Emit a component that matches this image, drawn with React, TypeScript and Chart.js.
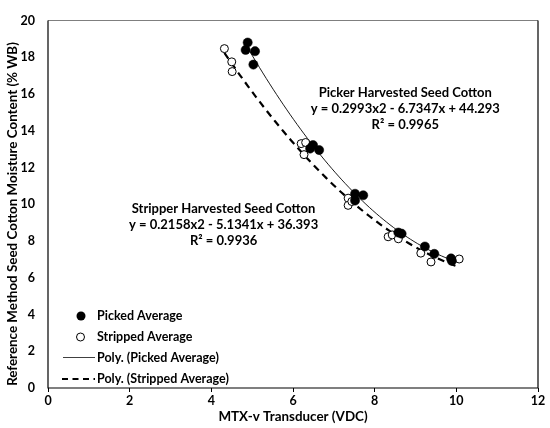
import React, { useEffect, useRef } from "react";
import { Chart, registerables } from "chart.js";

Chart.register(...registerables);

// Data
const pickedX = [4.89, 4.84, 5.07, 5.03, 6.49, 6.42, 6.64, 7.52, 7.72, 7.52, 8.58, 8.66, 9.23, 9.46, 9.87, 9.89];
const pickedY = [18.8, 18.4, 18.33, 17.6, 13.22, 13.03, 12.95, 10.57, 10.49, 10.2, 8.46, 8.4, 7.7, 7.3, 7.05, 6.92];
const strippedX = [4.32, 4.5, 4.51, 6.2, 6.31, 6.27, 7.35, 7.35, 7.44, 8.33, 8.43, 8.58, 9.13, 9.38, 10.07];
const strippedY = [18.47, 17.75, 17.22, 13.3, 13.36, 12.7, 10.33, 9.94, 10.15, 8.23, 8.33, 8.12, 7.34, 6.86, 7.02];

// Polynomial trendline coefficients shown on the chart (a, b, c for ax^2 + bx + c)
const pickedFit = [0.2993, -6.7347, 44.293];
const strippedFit = [0.2158, -5.1341, 36.393];

const pickedLabel = ["Picker Harvested Seed Cotton", "y = 0.2993x2 - 6.7347x + 44.293", "R² = 0.9965"];
const strippedLabel = ["Stripper Harvested Seed Cotton", "y = 0.2158x2 - 5.1341x + 36.393", "R² = 0.9936"];

const xTicks = [0, 2, 4, 6, 8, 10, 12];
const yTicks = [0, 2, 4, 6, 8, 10, 12, 14, 16, 18, 20];

const legendItems = ["Picked Average", "Stripped Average", "Poly. (Picked Average)", "Poly. (Stripped Average)"];

const FONT = "Lato";

function trend(xs: number[], fit: number[]) {
  const lo = Math.min(...xs);
  const hi = Math.max(...xs);
  const n = 60;
  const pts: { x: number; y: number }[] = [];
  for (let i = 0; i <= n; i++) {
    const x = lo + ((hi - lo) * i) / n;
    pts.push({ x, y: fit[0] * x * x + fit[1] * x + fit[2] });
  }
  return pts;
}

const overlay = {
  id: "overlay",
  beforeDatasetsDraw(chart: any) {
    const { ctx } = chart;
    const { left, top, right, bottom } = chart.chartArea;
    ctx.save();
    ctx.lineWidth = 1.2;
    ctx.strokeStyle = "#7f7f7f";
    ctx.beginPath();
    ctx.moveTo(left, top);
    ctx.lineTo(right, top);
    ctx.stroke();
    ctx.strokeStyle = "#000";
    ctx.beginPath();
    ctx.moveTo(right, top);
    ctx.lineTo(right, bottom);
    ctx.lineTo(left, bottom);
    ctx.lineTo(left, top);
    ctx.stroke();
    ctx.restore();
  },
  afterDraw(chart: any) {
    const { ctx } = chart;
    const xs = chart.scales.x;
    const ys = chart.scales.y;
    ctx.save();
    ctx.fillStyle = "#000";
    ctx.textBaseline = "middle";
    ctx.textAlign = "center";
    ctx.font = `bold 13px ${FONT}`;
    // annotations (positioned in data space)
    const pcx = xs.getPixelForValue(8.75);
    const pcy = ys.getPixelForValue(16.04);
    pickedLabel.forEach((t, i) => ctx.fillText(t, pcx, pcy + i * 16));
    const scx = xs.getPixelForValue(4.3);
    const scy = ys.getPixelForValue(9.77);
    strippedLabel.forEach((t, i) => ctx.fillText(t, scx, scy + i * 16));

    // y-axis title
    ctx.save();
    ctx.translate(13, 214);
    ctx.rotate(-Math.PI / 2);
    ctx.font = `bold 13.4px ${FONT}`;
    ctx.fillText("Reference Method Seed Cotton Moisture Content (% WB)", 0, 0);
    ctx.restore();

    // legend
    ctx.textAlign = "left";
    ctx.font = `bold 12.5px ${FONT}`;
    const tx = 97;
    const rows = [316, 337, 357.5, 379];
    ctx.fillStyle = "#000";
    ctx.beginPath();
    ctx.arc(81, rows[0], 4.5, 0, Math.PI * 2);
    ctx.fill();
    ctx.beginPath();
    ctx.arc(80.5, rows[1], 4, 0, Math.PI * 2);
    ctx.fillStyle = "#fff";
    ctx.fill();
    ctx.lineWidth = 1;
    ctx.strokeStyle = "#000";
    ctx.stroke();
    ctx.beginPath();
    ctx.lineWidth = 1;
    ctx.strokeStyle = "#404040";
    ctx.moveTo(63, rows[2]);
    ctx.lineTo(95, rows[2]);
    ctx.stroke();
    ctx.beginPath();
    ctx.lineWidth = 2.2;
    ctx.strokeStyle = "#000";
    ctx.setLineDash([6, 4.5]);
    ctx.moveTo(62, rows[3]);
    ctx.lineTo(95, rows[3]);
    ctx.stroke();
    ctx.setLineDash([]);
    ctx.fillStyle = "#000";
    legendItems.forEach((t, i) => ctx.fillText(t, tx, rows[i]));
    ctx.restore();
  },
};

export default function App() {
  const ref = useRef<HTMLCanvasElement | null>(null);

  useEffect(() => {
    document.body.style.margin = "0";
    if (!ref.current) return;
    Chart.defaults.font.family = FONT;
    const chart = new Chart(ref.current, {
      type: "scatter",
      data: {
        datasets: [
          {
            label: "Picked Average",
            data: pickedX.map((x, i) => ({ x, y: pickedY[i] })),
            pointRadius: 4.6,
            pointBackgroundColor: "#000",
            pointBorderColor: "#000",
            pointBorderWidth: 0.5,
            order: 0,
          },
          {
            label: "Stripped Average",
            data: strippedX.map((x, i) => ({ x, y: strippedY[i] })),
            pointRadius: 4,
            pointBackgroundColor: "#fff",
            pointBorderColor: "#000",
            pointBorderWidth: 1,
            order: 0,
          },
          {
            label: "Poly. (Picked Average)",
            type: "line",
            data: trend(pickedX, pickedFit),
            borderColor: "#000",
            borderWidth: 0.9,
            pointRadius: 0,
            showLine: true,
            fill: false,
            tension: 0,
            order: 1,
          },
          {
            label: "Poly. (Stripped Average)",
            type: "line",
            data: trend(strippedX, strippedFit),
            borderColor: "#000",
            borderWidth: 2.2,
            borderDash: [7, 5],
            pointRadius: 0,
            showLine: true,
            fill: false,
            tension: 0,
            order: 1,
          },
        ] as any,
      },
      options: {
        animation: false,
        responsive: false,
        devicePixelRatio: window.devicePixelRatio || 1,
        layout: { padding: { top: 12, right: 12, left: 0, bottom: 0 } },
        plugins: {
          legend: { display: false },
          tooltip: { enabled: false },
        },
        scales: {
          x: {
            type: "linear",
            min: 0,
            max: 12,
            afterBuildTicks: (s: any) => {
              s.ticks = xTicks.map((v) => ({ value: v }));
            },
            afterFit: (s: any) => {
              s.height = 40;
            },
            ticks: {
              color: "#000",
              font: { family: FONT, size: 12.5, weight: "bold" },
              padding: 1,
            },
            grid: {
              display: true,
              drawOnChartArea: false,
              drawTicks: true,
              tickLength: 4,
              color: "#000",
            },
            border: { display: false },
            title: {
              display: true,
              text: "MTX-v Transducer (VDC)",
              color: "#000",
              font: { family: FONT, size: 13.4, weight: "bold" },
              padding: { top: 0, bottom: 3 },
            },
          },
          y: {
            type: "linear",
            min: 0,
            max: 20,
            afterBuildTicks: (s: any) => {
              s.ticks = yTicks.map((v) => ({ value: v }));
            },
            afterFit: (s: any) => {
              s.width = 48;
            },
            ticks: {
              color: "#000",
              font: { family: FONT, size: 12.5, weight: "bold" },
              padding: 13,
            },
            grid: { display: false, drawTicks: false },
            border: { display: false },
            title: { display: false },
          },
        },
      },
      plugins: [overlay],
    } as any);
    return () => chart.destroy();
  }, []);

  return (
    <div style={{ width: 550, height: 428 }}>
      <canvas ref={ref} width={550} height={428} style={{ display: "block", width: 550, height: 428 }} />
    </div>
  );
}
